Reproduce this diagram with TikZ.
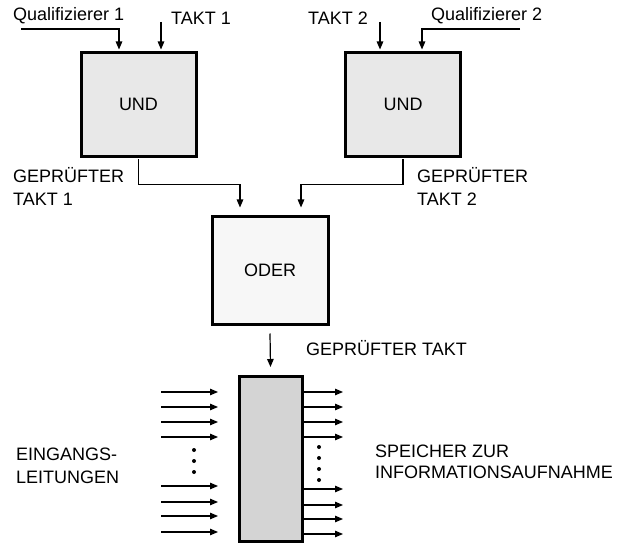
\documentclass[tikz,border=0pt]{standalone}
\usepackage{fontspec}
\setmainfont{Liberation Sans}
\usetikzlibrary{arrows.meta,calc}
\begin{document}
\begin{tikzpicture}[x=1bp,y=-1bp,
  every node/.style={font=\fontsize{18bp}{22bp}\selectfont, inner sep=0pt},
  gate/.style={draw, line width=3bp, minimum width=115bp, minimum height=104bp},
  wire/.style={line width=1.2bp},
  arr/.style={wire, -{Triangle[length=8bp,width=6.5bp]}},
  lbl/.style={anchor=base west},
  dotm/.style={fill, circle, minimum size=4bp}
]
\useasboundingbox (0,0) rectangle (624,544);
% boxes
\node[gate, fill=black!9] (und1) at (138.5,104.5) {UND};
\node[gate, fill=black!9] (und2) at (403,104.5) {UND};
\node[gate, fill=black!3, minimum width=116bp, minimum height=107bp] (oder) at (270,270.5) {ODER};
\node[draw, line width=3bp, fill=black!17, minimum width=63bp, minimum height=165bp] (mem) at (270.5,459) {};

% input labels
\node[lbl] (q1) at (13,21) {Qualifizierer 1};
\node[lbl] (t1) at (171,25) {TAKT 1};
\node[lbl] (t2) at (308,25) {TAKT 2};
\node[lbl] (q2) at (431,21) {Qualifizierer 2};

% inputs to UND
\coordinate (q1s) at (21,29);
\coordinate (t1s) at (161,22);
\coordinate (t2s) at (380,22);
\coordinate (q2s) at (520,29);
\draw[arr] (q1s) -| ($(und1.north)+(-19.5,-1.5)$);
\draw[arr] (t1s) -- (t1s |- {$(und1.north)+(0,-1.5)$});
\draw[arr] (t2s) -- (t2s |- {$(und2.north)+(0,-1.5)$});
\draw[arr] (q2s) -| ($(und2.north)+(19,-1.5)$);

% UND outputs
\node[lbl] (gt1a) at (13,183) {GEPRÜFTER};
\node[lbl] (gt1b) at (13,206) {TAKT 1};
\node[lbl] (gt2a) at (417,183) {GEPRÜFTER};
\node[lbl] (gt2b) at (417,206) {TAKT 2};
\draw[arr] ($(und1.south)+(0,1.5)$) -- ++(0,25) -| ($(oder.north)+(-30,-8)$);
\draw[arr] ($(und2.south)+(0,1.5)$) -- ++(0,25) -| ($(oder.north)+(31,-8)$);

% ODER to memory
\node[lbl] (gt) at (306,355) {GEPRÜFTER TAKT};
\draw[arr] ($(oder.south)+(0,8)$) -- ($(mem.north)+(0,-8)$);

% input lines
\foreach \y in {392,407,422,437,486,502,516,532}
  \draw[arr] (161,\y) -- (218,\y);
\foreach \y in {450,461,472}
  \node[dotm] at (194,\y) {};
% output lines
\foreach \y in {392,407,422,437,489,505,519,534}
  \draw[arr] (mem.east |- 0,\y) -- (343,\y);
\foreach \y in {447,458,469,480}
  \node[dotm] at (319,\y) {};

\node[lbl] (ein1) at (16,460) {EINGANGS-};
\node[lbl] (ein2) at (16,483) {LEITUNGEN};
\node[lbl] (sp1) at (375,457) {SPEICHER ZUR};
\node[lbl] (sp2) at (375,478) {INFORMATIONSAUFNAHME};
\end{tikzpicture}
\end{document}
